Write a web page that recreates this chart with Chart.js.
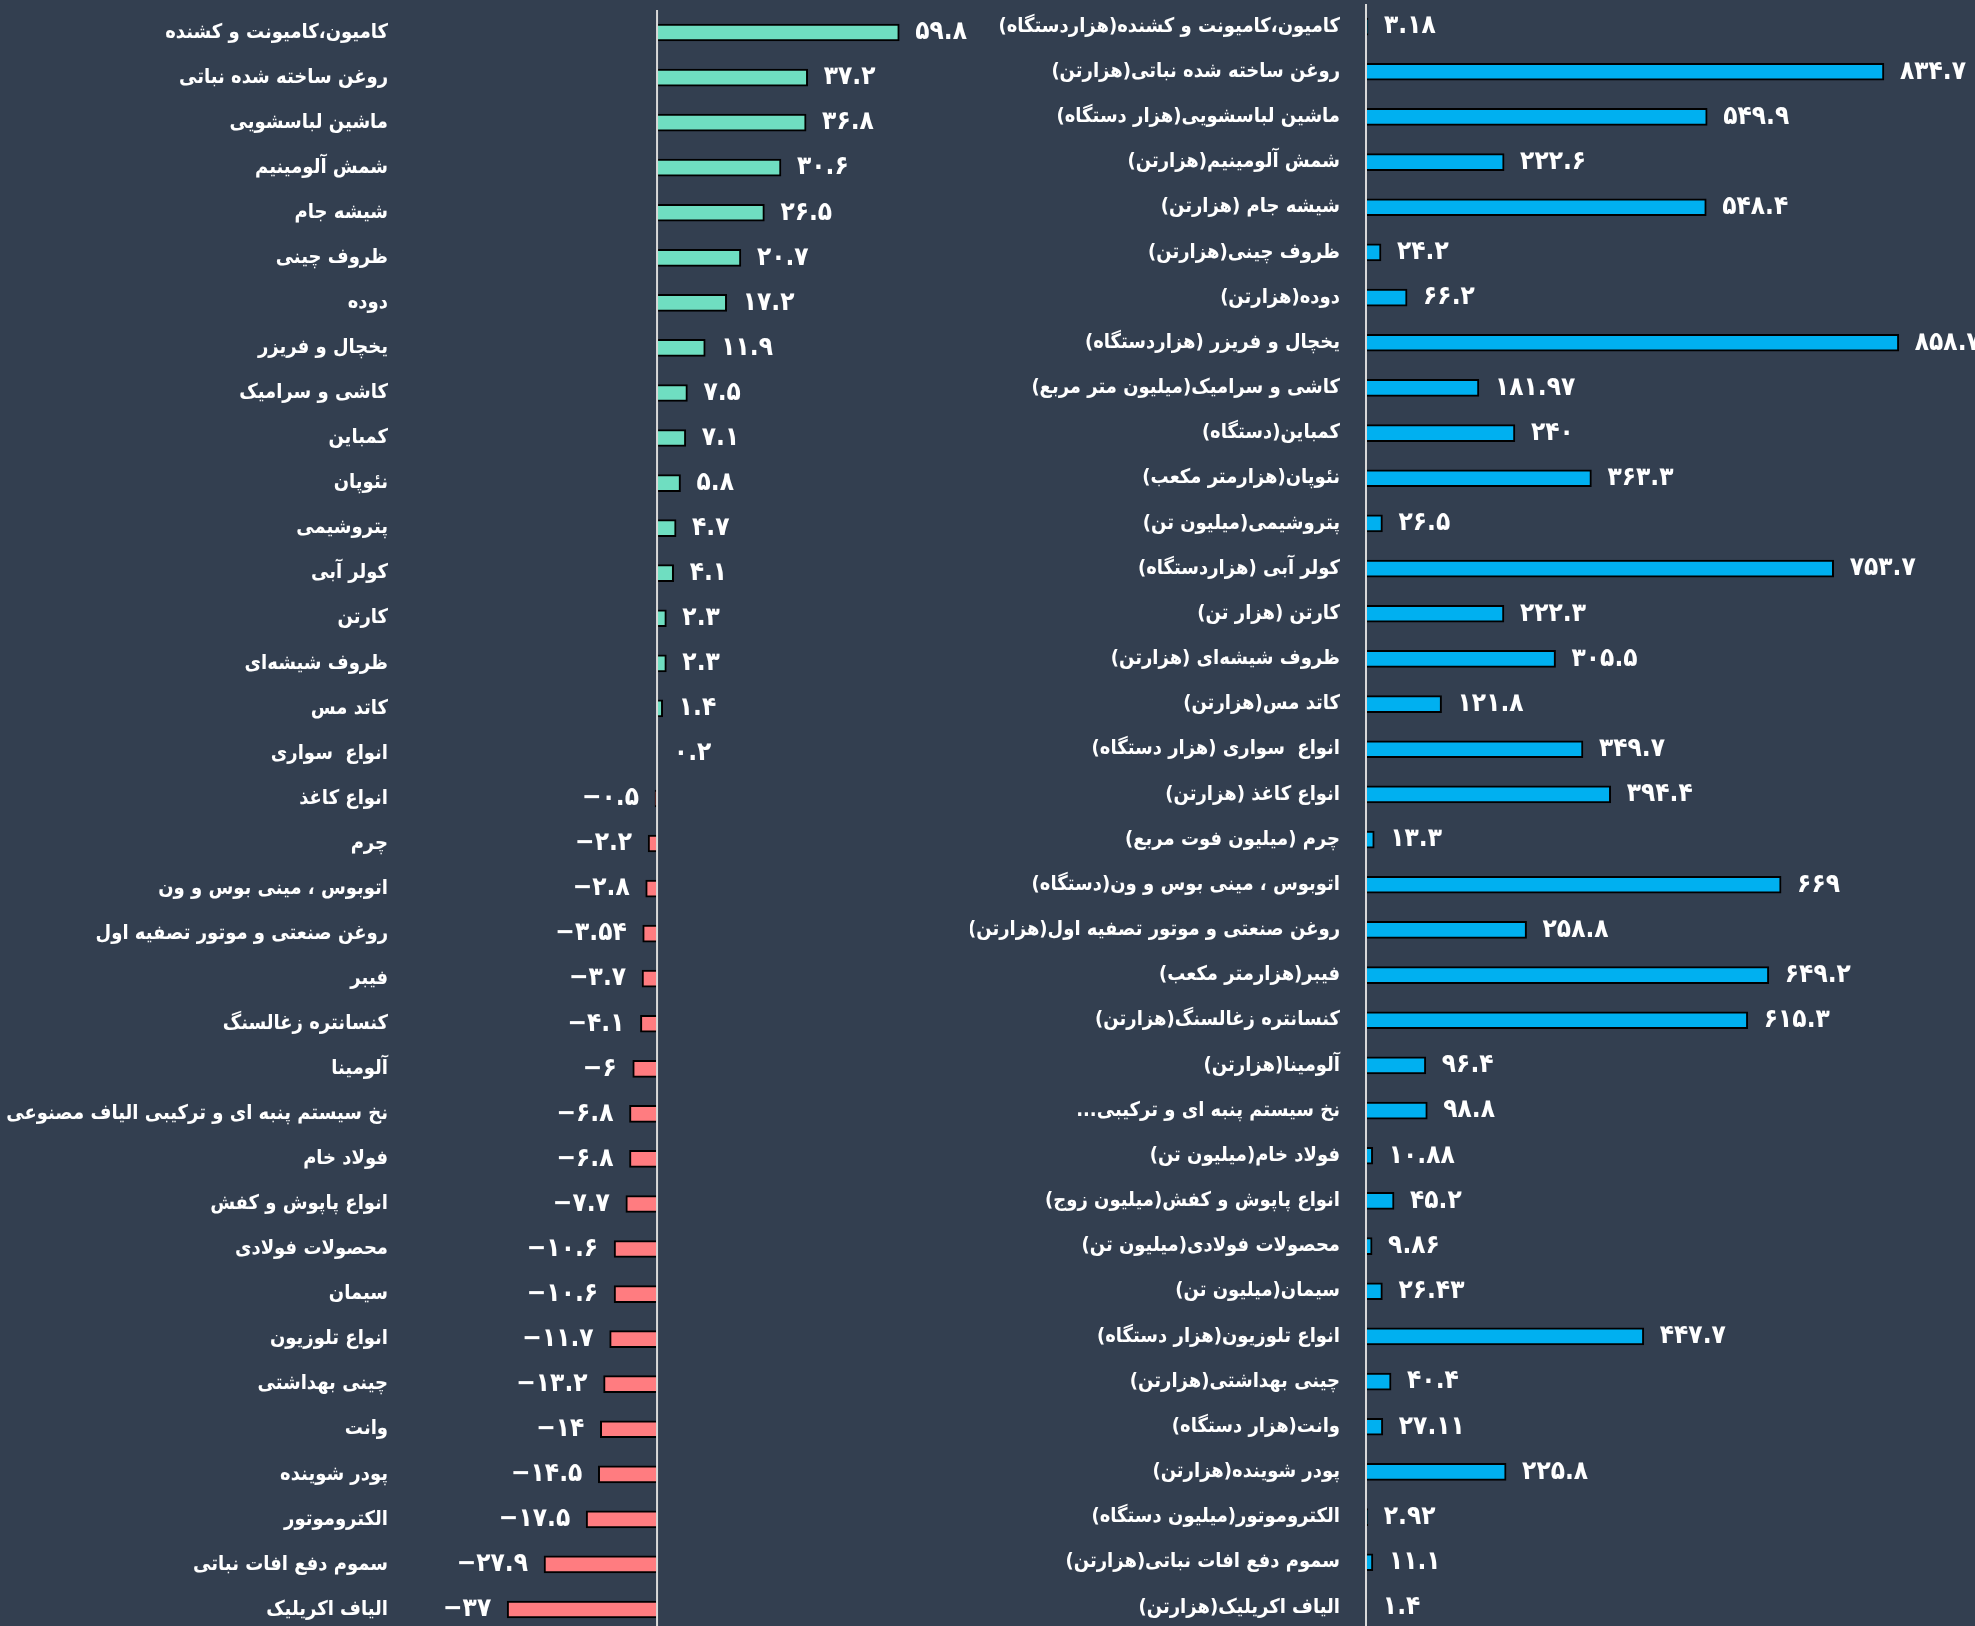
<!DOCTYPE html>
<html>
<head>
<meta charset="utf-8">
<script src="https://cdn.jsdelivr.net/npm/chart.js@4.4.0/dist/chart.umd.min.js"></script>
<style>
    html, body { margin: 0; padding: 0; background: #333F50; overflow: hidden; }
    body { width: 1975px; height: 1626px; position: relative; }
    canvas { position: absolute; top: 0; }
    #growthChart { left: 0; }
    #outputChart { left: 970px; }
</style>
</head>
<body>
<canvas id="growthChart" width="975" height="1632" dir="rtl"></canvas>
<canvas id="outputChart" width="1005" height="1630" dir="rtl"></canvas>

<script>
// left chart: product names and growth (percent)
var growthLabels = [
    "کامیون،کامیونت و کشنده", "روغن ساخته شده نباتی", "ماشین لباسشویی", "شمش آلومینیم",
    "شیشه جام", "ظروف چینی", "دوده", "یخچال و فریزر", "کاشی و سرامیک", "کمباین",
    "نئوپان", "پتروشیمی", "کولر آبی", "کارتن", "ظروف شیشه\u200cای", "کاتد مس",
    "انواع  سواری", "انواع کاغذ", "چرم", "اتوبوس ، مینی بوس و ون",
    "روغن صنعتی و موتور تصفیه اول", "فیبر", "کنسانتره زغالسنگ", "آلومینا",
    "نخ سیستم پنبه ای و ترکیبی الیاف مصنوعی", "فولاد خام", "انواع پاپوش و کفش",
    "محصولات فولادی", "سیمان", "انواع تلوزیون", "چینی بهداشتی", "وانت",
    "پودر شوینده", "الکتروموتور", "سموم دفع افات نباتی", "الیاف اکریلیک"
];
var growthValues = [
    59.8, 37.2, 36.8, 30.6, 26.5, 20.7, 17.2, 11.9, 7.5, 7.1,
    5.8, 4.7, 4.1, 2.3, 2.3, 1.4, 0.2, -0.5, -2.2, -2.8,
    -3.54, -3.7, -4.1, -6, -6.8, -6.8, -7.7, -10.6, -10.6, -11.7,
    -13.2, -14, -14.5, -17.5, -27.9, -37
];

// right chart: names with units and production amounts
var outputLabels = [
    "کامیون،کامیونت و کشنده(هزاردستگاه)", "روغن ساخته شده نباتی(هزارتن)",
    "ماشین لباسشویی(هزار دستگاه)", "شمش آلومینیم(هزارتن)", "شیشه جام (هزارتن)",
    "ظروف چینی(هزارتن)", "دوده(هزارتن)", "یخچال و فریزر (هزاردستگاه)",
    "کاشی و سرامیک(میلیون متر مربع)", "کمباین(دستگاه)", "نئوپان(هزارمتر مکعب)",
    "پتروشیمی(میلیون تن)", "کولر آبی (هزاردستگاه)", "کارتن (هزار تن)",
    "ظروف شیشه\u200cای (هزارتن)", "کاتد مس(هزارتن)", "انواع  سواری (هزار دستگاه)",
    "انواع کاغذ (هزارتن)", "چرم (میلیون فوت مربع)", "اتوبوس ، مینی بوس و ون(دستگاه)",
    "روغن صنعتی و موتور تصفیه اول(هزارتن)", "فیبر(هزارمتر مکعب)",
    "کنسانتره زغالسنگ(هزارتن)", "آلومینا(هزارتن)", "نخ سیستم پنبه ای و ترکیبی...",
    "فولاد خام(میلیون تن)", "انواع پاپوش و کفش(میلیون زوج)", "محصولات فولادی(میلیون تن)",
    "سیمان(میلیون تن)", "انواع تلوزیون(هزار دستگاه)", "چینی بهداشتی(هزارتن)",
    "وانت(هزار دستگاه)", "پودر شوینده(هزارتن)", "الکتروموتور(میلیون دستگاه)",
    "سموم دفع افات نباتی(هزارتن)", "الیاف اکریلیک(هزارتن)"
];
var outputValues = [
    3.18, 834.7, 549.9, 222.6, 548.4, 24.2, 66.2, 858.7, 181.97, 240,
    363.3, 26.5, 753.7, 222.3, 305.5, 121.8, 349.7, 394.4, 13.3, 669,
    258.8, 649.2, 615.3, 96.4, 98.8, 10.88, 45.2, 9.86, 26.43, 447.7,
    40.4, 27.11, 225.8, 2.92, 11.1, 1.4
];

var fontFamily = '"DejaVu Sans Condensed", "DejaVu Sans", sans-serif';
Chart.defaults.font.family = fontFamily;
Chart.defaults.color = "#ffffff";

// persian digits, minus sign kept on the left
function toFa(v) {
    var s = String(Math.abs(v)).replace(/\d/g, function (d) { return "۰۱۲۳۴۵۶۷۸۹"[d]; });
    return v < 0 ? "\u2212" + s : s;
}

// white zero line + value labels at bar ends
var barExtras = {
    id: "barExtras",
    afterDatasetsDraw: function (chart) {
        var ctx = chart.ctx;
        var area = chart.chartArea;
        var x0 = chart.scales.x.getPixelForValue(0);
        ctx.save();
        ctx.strokeStyle = "#D9D9D9";
        ctx.lineWidth = 2;
        ctx.beginPath();
        ctx.moveTo(x0, area.top);
        ctx.lineTo(x0, chart.height);
        ctx.stroke();

        ctx.direction = "ltr";
        ctx.fillStyle = "#ffffff";
        ctx.font = "bold 26px " + fontFamily;
        ctx.textBaseline = "middle";
        var values = chart.data.datasets[0].data;
        chart.getDatasetMeta(0).data.forEach(function (bar, i) {
            var v = values[i];
            if (v >= 0) {
                ctx.textAlign = "left";
                ctx.fillText(toFa(v), bar.x + 16, bar.y);
            } else {
                ctx.textAlign = "right";
                ctx.fillText(toFa(v), bar.x - 16, bar.y);
            }
        });
        ctx.restore();
    }
};

function makeOptions(xMin, xMax, axisWidth, tickPad, padTop) {
    return {
        indexAxis: "y",
        responsive: false,
        animation: false,
        devicePixelRatio: 1,
        layout: { padding: { top: padTop, right: 0, bottom: 0, left: 0 } },
        plugins: { legend: { display: false }, tooltip: { enabled: false } },
        scales: {
            x: { display: false, min: xMin, max: xMax },
            y: {
                position: "left",
                grid: { display: false, drawTicks: false },
                border: { display: false },
                ticks: {
                    color: "#ffffff",
                    autoSkip: false,
                    padding: tickPad,
                    font: { size: 20, weight: "bold" }
                },
                afterFit: function (scale) {
                    // fixed label column, no extra top/bottom room
                    scale.width = axisWidth;
                    scale.paddingTop = 0;
                    scale.paddingBottom = 0;
                }
            }
        }
    };
}

new Chart(document.getElementById("growthChart"), {
    type: "bar",
    data: {
        labels: growthLabels,
        datasets: [{
            data: growthValues,
            backgroundColor: growthValues.map(function (v) { return v >= 0 ? "#6FDEC1" : "#FF7C80"; }),
            borderColor: "#000000",
            borderWidth: 2,
            borderSkipped: "start",
            barThickness: 17
        }]
    },
    options: makeOptions(-63.46, 78.5, 400, 12, 10),
    plugins: [barExtras]
});

new Chart(document.getElementById("outputChart"), {
    type: "bar",
    data: {
        labels: outputLabels,
        datasets: [{
            data: outputValues,
            backgroundColor: "#00B0F0",
            borderColor: "#000000",
            borderWidth: 2,
            borderSkipped: "start",
            barThickness: 17
        }]
    },
    options: makeOptions(0, 981.5, 396, 26, 4),
    plugins: [barExtras]
});
</script>
</body>
</html>
